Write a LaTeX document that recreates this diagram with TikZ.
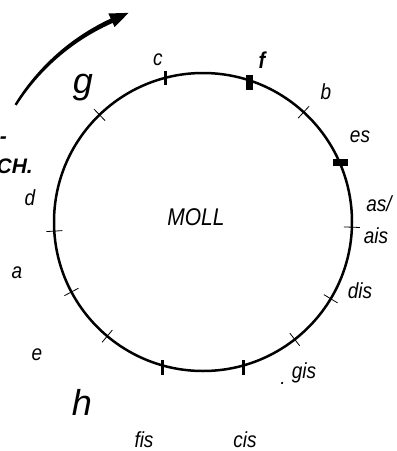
\documentclass[tikz,border=0pt]{standalone}
\usepackage{fontspec}
\usepackage{graphicx}
\setmainfont{Liberation Sans}
\usetikzlibrary{calc,arrows.meta}
\newcommand\tallt[1]{\scalebox{1}[1.15]{#1}}
\begin{document}
\begin{tikzpicture}[x=1pt,y=-1pt,
  lbl/.style={font=\fontsize{19}{19}\selectfont\itshape, inner sep=0pt, anchor=base},
  biglbl/.style={font=\fontsize{36}{36}\selectfont\itshape, inner sep=0pt, anchor=base},
  boldlbl/.style={font=\fontsize{21}{21}\selectfont\bfseries\itshape, inner sep=0pt, anchor=base},
  thintick/.style={line width=0.8pt},
  thicktick/.style={line width=3pt},
  ringstyle/.style={draw, circle, line width=2.5pt, minimum size=298pt, inner sep=0pt}]
\useasboundingbox (0,0) rectangle (397,451);
% ring
\node[ringstyle] (ring) at (203,222) {};
\node[lbl, font=\fontsize{21}{21}\selectfont\itshape] (moll) at (196,225) {\tallt{MOLL}};
% thin radial ticks
\foreach \a in {134,47.5,-2,-31,-52,-130,-152,-176.5}{
  \draw[thintick] ($(ring.center)+(-\a:141)$) -- ($(ring.center)+(-\a:157)$);
}
% thick ticks
\coordinate (tc1) at (165,71);  \coordinate (tc2) at (165,85);
\draw[thicktick] (tc1) -- (tc2);
\coordinate (tcis1) at (243,360); \coordinate (tcis2) at (243,375);
\draw[thicktick] (tcis1) -- (tcis2);
\coordinate (tfis1) at (162,360); \coordinate (tfis2) at (162,375);
\draw[thicktick] (tfis1) -- (tfis2);
\fill (246,75) rectangle (253,90);
\fill (333,159) rectangle (348,166);
% tapered arrow
\fill plot[domain=148:113.5, samples=30, variable=\t]
   ({203+(221+1.2+(148-\t)*0.035)*cos(\t)}, {222-(221+1.2+(148-\t)*0.035)*sin(\t)})
   -- plot[domain=113.5:148, samples=30, variable=\t]
   ({203+(221-1.2-(148-\t)*0.035)*cos(\t)}, {222-(221-1.2-(148-\t)*0.035)*sin(\t)}) -- cycle;
\coordinate (hb1) at ($(ring.center)+(-114.4:229)$);
\coordinate (hb2) at ($(ring.center)+(-114.4:214)$);
\coordinate (htip) at ($(ring.center)+(-109.6:222)$);
\fill (hb1) -- (htip) -- (hb2) -- cycle;
% labels
\node[lbl] (lc) at (158,65) {\tallt{c}};
\node[lbl, font=\fontsize{20}{20}\selectfont\bfseries\itshape] (lf) at (262,68) {\tallt{f}};
\node[lbl] (lb) at (326,99) {\tallt{b}};
\node[lbl] (les) at (360,142) {\tallt{es}};
\node[lbl] (las) at (379,211) {\tallt{as/}};
\node[lbl] (lais) at (376,243) {\tallt{ais}};
\node[lbl] (ldis) at (360,298) {\tallt{dis}};
\node[lbl] (lgis) at (304,378) {\tallt{gis}};
\node[lbl] (ldot) at (283,384) {.};
\node[lbl] (lcis) at (245,447) {\tallt{cis}};
\node[lbl] (lfis) at (144,447) {\tallt{fis}};
\node[biglbl] (lh) at (82,415) {h};
\node[lbl] (le) at (37,360) {\tallt{e}};
\node[lbl] (la) at (17,278) {\tallt{a}};
\node[lbl] (ld) at (30,205) {\tallt{d}};
\node[biglbl] (lg) at (83,93) {g};
\node[boldlbl, anchor=base east] (lch) at (33,173) {CH.};
\node[boldlbl, anchor=base east] (ldash) at (7,143) {-};
\end{tikzpicture}
\end{document}
